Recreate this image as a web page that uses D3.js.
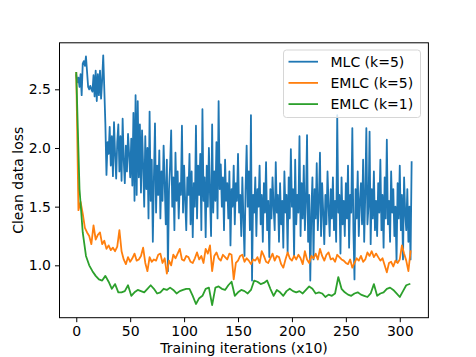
<!DOCTYPE html>
<html>
<head>
<meta charset="utf-8">
<script src="https://cdn.jsdelivr.net/npm/d3@7"></script>
<style>
  body { margin: 0; background: #fff; }
  svg { display: block; font-family: "DejaVu Sans", sans-serif; }
</style>
</head>
<body>
<svg id="chart"></svg>
<script>
// Series values
const seriesNames = ["MLC (k=5)", "EMLC (k=5)", "EMLC (k=1)"];
const seriesColors = ["#1f77b4", "#ff7f0e", "#2ca02c"];

// MLC (k=5): one value per iteration step, x = 0..311
const mlcStep = 1;
const mlcValues = [
  2.62, 2.56, 2.60, 2.52, 2.63, 2.45, 2.72, 2.74, 2.70, 2.78,
  2.65, 2.52, 2.50, 2.53, 2.50, 2.48, 2.62, 2.44, 2.66, 2.40,
  2.63, 2.45, 2.66, 2.42, 2.58, 2.79, 2.50, 2.20, 1.77, 2.05,
  1.95, 2.18, 1.85, 2.10, 1.76, 2.22, 1.95, 1.74, 2.05, 2.20,
  1.80, 2.10, 1.72, 2.25, 1.90, 1.70, 2.02, 1.80, 2.12, 1.95,
  1.75, 2.08, 1.68, 2.30, 1.55, 2.45, 1.60, 2.40, 1.75, 2.20,
  1.62, 2.15, 1.85, 1.50, 2.10, 1.65, 2.00, 1.40, 2.31, 1.55,
  1.90, 1.20, 1.75, 2.21, 1.45, 1.85, 1.60, 1.98, 1.40, 1.80,
  1.55, 2.02, 1.70, 1.35, 1.90, 0.95, 1.65, 1.85, 2.15, 1.50,
  1.75, 1.30, 1.96, 1.55, 1.80, 1.40, 1.70, 1.60, 2.19, 1.45,
  1.85, 1.55, 1.30, 1.75, 1.60, 1.95, 1.35, 1.80, 1.24, 1.70,
  1.50, 2.19, 1.40, 1.85, 1.60, 1.95, 1.30, 2.33, 1.55, 1.75,
  1.24, 1.85, 1.50, 2.00, 1.60, 1.25, 2.20, 1.45, 1.80, 1.55,
  2.05, 1.40, 2.40, 1.65, 1.86, 1.50, 1.75, 1.30, 1.90, 1.55,
  1.70, 1.40, 1.80, 1.17, 1.65, 1.50, 1.85, 1.35, 1.70, 1.55,
  1.95, 1.45, 1.60, 1.25, 1.75, 1.40, 1.08, 1.65, 2.02, 1.50,
  1.80, 1.30, 2.28, 0.87, 1.60, 1.45, 1.75, 1.25, 1.65, 1.50,
  1.85, 1.35, 1.60, 1.20, 1.70, 1.45, 1.88, 1.30, 1.55, 1.07,
  1.65, 1.40, 1.75, 1.50, 1.30, 1.88, 1.45, 1.60, 1.20, 1.70,
  1.35, 1.55, 1.15, 1.80, 1.45, 1.60, 1.11, 1.75, 1.40, 1.99,
  1.50, 1.65, 1.07, 1.90, 1.35, 1.60, 1.45, 2.10, 1.25, 1.70,
  1.40, 1.85, 1.30, 1.55, 2.11, 1.20, 1.60, 0.87, 1.45, 1.75,
  1.05, 1.65, 1.40, 1.87, 1.30, 1.55, 1.96, 1.25, 1.70, 1.45,
  1.18, 1.60, 1.35, 1.80, 1.50, 1.25, 1.65, 1.40, 1.75, 1.30,
  1.55, 1.20, 2.28, 1.45, 1.60, 1.10, 1.75, 1.35, 1.55, 1.25,
  1.70, 1.40, 1.85, 1.15, 1.60, 1.45, 2.17, 1.30, 0.88, 1.65,
  1.40, 1.80, 1.25, 1.55, 1.70, 1.35, 1.90, 1.20, 1.60, 2.17,
  1.35, 1.50, 2.14, 1.18, 1.65, 1.40, 1.80, 1.30, 1.55, 1.25,
  1.70, 1.45, 1.90, 1.30, 1.60, 1.15, 1.75, 1.40, 2.07, 1.35,
  1.55, 1.20, 1.80, 1.45, 1.65, 1.25, 1.50, 1.03, 1.70, 1.40,
  1.85, 1.30, 1.60, 1.05, 1.75, 1.45, 1.30, 1.65, 1.20, 1.50, 1.05, 1.88
];

// EMLC (k=5): every 2 iterations, x = 0..310
const emlc5Step = 2;
const emlc5Values = [
  2.64, 1.47, 1.54, 1.44, 1.32, 1.28, 1.25, 1.18, 1.34, 1.22,
  1.26, 1.28, 1.18, 1.21, 1.14, 1.17, 1.13, 1.15, 1.12, 1.16,
  1.30, 1.12, 1.05, 1.01, 1.07, 1.03, 1.06, 1.10, 1.04, 1.05,
  1.08, 1.15, 1.02, 0.95, 1.07, 1.03, 1.05, 1.04, 1.09, 1.10,
  1.02, 1.06, 0.93, 1.04, 1.00, 1.09, 1.06, 1.10, 1.14, 1.05,
  1.04, 1.08, 1.07, 1.03, 1.02, 1.06, 1.11, 1.05, 1.08, 1.02,
  1.14, 1.10, 1.17, 0.95, 1.08, 1.11, 1.06, 1.04, 1.09, 1.07,
  1.05, 1.10, 1.09, 0.88, 1.02, 1.04, 1.08, 1.09, 1.03, 1.06,
  1.04, 1.01, 1.05, 1.04, 1.07, 1.02, 1.12, 1.08, 1.03, 1.02,
  1.06, 1.10, 1.04, 1.08, 1.07, 1.01, 0.98, 1.05, 1.11, 1.06,
  1.04, 1.08, 1.05, 1.09, 1.06, 1.01, 1.12, 1.05, 1.02, 1.08,
  1.06, 1.10, 1.05, 1.14, 1.08, 1.04, 1.09, 1.11, 1.05, 1.06,
  1.03, 1.09, 1.07, 1.05, 1.04, 1.02, 1.01, 1.05, 0.98, 1.02,
  1.06, 1.04, 1.08, 1.03, 1.05, 1.11, 1.08, 1.12, 1.07, 1.10,
  1.07, 1.04, 1.06, 1.00, 0.94, 1.02, 1.03, 0.99, 1.04, 1.02,
  1.05, 1.17, 1.10, 1.04, 0.95, 1.12
];

// EMLC (k=1): every 3 iterations, x = 0..309
const emlc1Step = 3;
const emlc1Values = [
  2.64, 1.65, 1.28, 1.08, 1.00, 0.95, 0.91, 0.88, 0.87, 0.91,
  0.86, 0.80, 0.84, 0.77, 0.77, 0.78, 0.83, 0.74, 0.77, 0.79,
  0.78, 0.77, 0.80, 0.83, 0.80, 0.76, 0.77, 0.80, 0.79, 0.81,
  0.79, 0.76, 0.78, 0.79, 0.80, 0.80, 0.74, 0.67, 0.72, 0.74,
  0.80, 0.81, 0.66, 0.81, 0.82, 0.80, 0.79, 0.83, 0.86, 0.74,
  0.77, 0.79, 0.78, 0.76, 0.79, 0.87, 0.86, 0.84, 0.85, 0.87,
  0.80, 0.74, 0.79, 0.77, 0.74, 0.78, 0.80, 0.78, 0.77, 0.78,
  0.76, 0.79, 0.82, 0.80, 0.76, 0.77, 0.76, 0.73, 0.75, 0.74,
  0.76, 0.90, 0.80, 0.77, 0.75, 0.74, 0.76, 0.77, 0.75, 0.74,
  0.73, 0.76, 0.84, 0.74, 0.76, 0.77, 0.80, 0.81, 0.79, 0.76,
  0.73, 0.78, 0.83, 0.84
];

const xTicks = [0, 50, 100, 150, 200, 250, 300];
const yTicks = [1.0, 1.5, 2.0, 2.5];
const xLabel = "Training iterations (x10)";
const yLabel = "Clean data loss";

// Chart dimensions (matplotlib default subplot placement)
const width = 476;
const height = 357;
const marginLeft = 59.5;
const marginRight = 47.6;
const marginTop = 42.8;
const marginBottom = 39.3;

const series = [
  {name: seriesNames[0], color: seriesColors[0], points: mlcValues.map((v, i) => ({x: i * mlcStep, y: v}))},
  {name: seriesNames[1], color: seriesColors[1], points: emlc5Values.map((v, i) => ({x: i * emlc5Step, y: v}))},
  {name: seriesNames[2], color: seriesColors[2], points: emlc1Values.map((v, i) => ({x: i * emlc1Step, y: v}))}
];

const allPoints = series.flatMap(s => s.points);
// 5% padding on both sides, like matplotlib autoscaling
const pad = ([a, b]) => [a - (b - a) * 0.05, b + (b - a) * 0.05];
const x = d3.scaleLinear(pad(d3.extent(allPoints, d => d.x)), [marginLeft, width - marginRight]);
const y = d3.scaleLinear(pad(d3.extent(allPoints, d => d.y)), [height - marginBottom, marginTop]);

const svg = d3.select("#chart")
    .attr("width", width)
    .attr("height", height)
    .attr("viewBox", [0, 0, width, height]);

// Lines, clipped to the axes area
svg.append("clipPath").attr("id", "clip")
  .append("rect")
    .attr("x", marginLeft).attr("y", marginTop)
    .attr("width", width - marginLeft - marginRight)
    .attr("height", height - marginTop - marginBottom);

const line = d3.line().x(d => x(d.x)).y(d => y(d.y));

svg.append("g")
    .attr("clip-path", "url(#clip)")
  .selectAll("path")
  .data(series)
  .join("path")
    .attr("fill", "none")
    .attr("stroke", d => d.color)
    .attr("stroke-width", 1.8)
    .attr("stroke-linejoin", "round")
    .attr("stroke-linecap", "square")
    .attr("d", d => line(d.points));

// Axes
svg.append("g")
    .attr("transform", `translate(0,${height - marginBottom})`)
    .call(d3.axisBottom(x).tickValues(xTicks).tickFormat(d3.format("d")).tickSize(4.5).tickPadding(4))
    .call(g => g.select(".domain").remove())
    .call(g => g.selectAll("text").attr("font-size", 14).attr("fill", "#000").attr("font-family", "DejaVu Sans"));

svg.append("g")
    .attr("transform", `translate(${marginLeft},0)`)
    .call(d3.axisLeft(y).tickValues(yTicks).tickFormat(d3.format(".1f")).tickSize(4.5).tickPadding(4))
    .call(g => g.select(".domain").remove())
    .call(g => g.selectAll("text").attr("font-size", 14).attr("fill", "#000").attr("font-family", "DejaVu Sans"));

// Axes frame
svg.append("rect")
    .attr("x", marginLeft)
    .attr("y", marginTop)
    .attr("width", width - marginLeft - marginRight)
    .attr("height", height - marginTop - marginBottom)
    .attr("fill", "none")
    .attr("stroke", "#000")
    .attr("stroke-width", 1);

// Axis labels
svg.append("text")
    .attr("x", (marginLeft + width - marginRight) / 2)
    .attr("y", 353)
    .attr("text-anchor", "middle")
    .attr("font-size", 14)
    .text(xLabel);

svg.append("text")
    .attr("transform", `translate(23,${(marginTop + height - marginBottom) / 2}) rotate(-90)`)
    .attr("text-anchor", "middle")
    .attr("font-size", 14)
    .text(yLabel);

// Legend
const legend = svg.append("g").attr("transform", "translate(283.5,50)");
legend.append("rect")
    .attr("width", 137)
    .attr("height", 67.5)
    .attr("rx", 3)
    .attr("fill", "#fff")
    .attr("fill-opacity", 0.8)
    .attr("stroke", "#d6d6d6")
    .attr("stroke-width", 1);

const item = legend.selectAll("g.item")
  .data(series)
  .join("g")
    .attr("class", "item")
    .attr("transform", (d, i) => `translate(0,${11.7 + i * 21.2})`);

item.append("line")
    .attr("x1", 5).attr("x2", 34.5)
    .attr("stroke", d => d.color)
    .attr("stroke-width", 1.8);

item.append("text")
    .attr("x", 47)
    .attr("dy", "0.35em")
    .attr("font-size", 14)
    .text(d => d.name);
</script>
</body>
</html>
